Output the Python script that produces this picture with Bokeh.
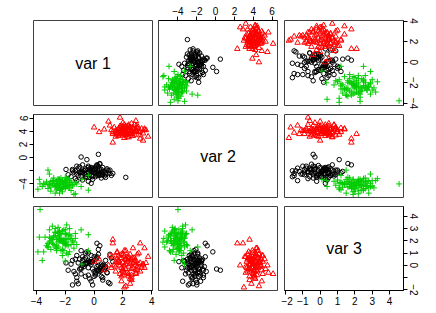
from bokeh.plotting import figure
from bokeh.layouts import gridplot
from bokeh.models import Range1d, LinearAxis, FixedTicker
from bokeh.embed import file_html
from bokeh.resources import INLINE
from bokeh.core.properties import value

var_names = ["var 1", "var 2", "var 3"]

# group 1 (black circles)
black_v1 = [-0.2, 0.4, -0.7, 0.1, -1.1, 0.8, -0.4, 0.3, -0.9, 0.6, -0.1, -1.4, 1.0, -0.6, 0.2, -0.3, 1.2, -1.6, 0.5, -0.8,
            0.0, -1.2, 0.9, -0.5, 0.3, -1.0, 0.7, -0.2, -1.3, 1.3, -0.7, 0.1, -0.4, 0.6, -1.5, 0.2, -0.9, 0.4, -0.1, 1.1,
            -1.8, -0.3, 0.8, -0.6, 0.0, -1.2, 0.5, -0.8, 2.2, 0.3, -0.9, -1.1, -1.2, -1.95, -0.2, 0.2, 0.4, -0.5, 1.1, -1.5,
            -0.3, 0.2, -0.6, 0.5, -0.1, -0.9, 0.3, -0.4, 0.7, -0.2, 0.0, -0.7, 0.4, -1.0, 0.1,
            -0.5, 0.6, -0.3, 0.9, -0.8, 0.2, -0.1, -0.6, 0.3, -1.3, 0.8, -0.4, 0.1, -0.2, 0.5]
black_v2 = [-2.1, -1.8, -2.4, -2.9, -1.6, -2.3, -1.3, -2.6, -2.8, -1.5, -3.3, -2.2, -2.0, -1.9, -1.2, -2.5, -2.7, -2.9, -3.1, -1.1,
            -2.2, -2.5, -1.7, -3.0, -2.1, -1.4, -2.8, -1.6, -3.2, -2.4, -2.0, -1.4, -3.6, -2.5, -1.8, -2.7, -2.3, -1.0, -2.9, -1.9,
            -2.6, -1.7, -3.0, -2.6, -1.9, -1.3, -2.2, -3.4, -3.0, 0.5, 0.1, -2.75, -3.5, -1.8, -3.9, -1.1, -0.9, -0.3, -2.4, -2.0,
            -2.0, -2.3, -1.7, -2.6, -1.9, -2.1, -2.4, -1.5, -2.2, -2.8, -1.8, -2.0, -2.7, -2.3, -1.6,
            -2.4, -2.1, -3.0, -1.9, -2.2, -2.5, -1.7, -2.9, -1.3, -2.0, -2.6, -2.2, -2.3, -1.5, -1.8]
black_v3 = [0.1, -0.3, 0.5, -0.6, 0.2, 0.4, -0.8, 0.9, -0.2, 0.0, 0.3, -0.5, -1.4, 1.0, -0.1, -1.1, 0.6, 0.1, -0.4, 0.7,
            -0.9, 0.8, -0.6, 0.2, 1.3, -0.3, 0.0, -1.3, -0.7, 0.3, -0.1, 0.5, -0.2, -1.0, 0.4, 0.6, 1.2, -0.5, -1.6, 0.9,
            -0.4, 0.3, -0.2, -0.9, 0.7, -1.0, 0.1, 0.4, 0.5, -0.4, -0.3, -1.5, -1.3, 0.2, 0.3, 1.8, 1.6, 1.1, -1.5, -1.6,
            0.2, -0.4, 0.6, -0.1, 0.3, -0.7, 0.0, 0.4, -0.3, 0.8, -0.5, 0.1, -0.2, 0.5, -0.8,
            0.2, -1.2, 0.3, -0.6, 0.0, 0.7, -0.3, 0.1, -0.4, 0.5, -0.1, 1.0, -0.7, 0.3, -0.9]

# group 2 (red triangles)
red_v1 = [2.2, 1.8, 2.6, 2.0, 2.9, 1.5, 2.4, 3.1, 1.9, 2.7, 1.6, 2.3, 3.3, 2.1, 1.4, 2.8, 2.5, 1.7, 3.0, 2.2,
          1.2, 2.6, 2.0, 3.4, 1.9, 2.4, 2.9, 1.6, 2.3, 3.2, 2.1, 1.3, 2.7, 2.0, 2.5, 1.8, 3.0, 2.4, 1.5, 2.8,
          2.2, 3.5, 1.9, 2.6, 0.0, 0.35, 1.8, 3.75, 3.6, 1.3, 3.4, 1.3, 3.5, 2.1, 2.2, 3.2, 1.0, 2.9, 0.7, 1.1,
          2.3, 1.9, 2.7, 2.1, 2.5, 1.7, 2.9, 2.0, 2.4, 3.0, 1.6, 2.2, 2.8, 1.8, 2.6,
          2.3, 3.2, 2.0, 1.5, 2.5, 2.7, 1.9, 2.4, 3.1, 2.1, 1.7, 2.6, 2.9, 2.2, 2.0]
red_v2 = [4.0, 4.5, 3.7, 3.4, 4.3, 4.1, 4.8, 3.9, 3.6, 4.6, 3.8, 3.2, 4.4, 5.0, 4.6, 3.5, 4.2, 3.3, 4.9, 3.9,
          4.2, 5.2, 4.4, 3.7, 4.9, 3.1, 4.0, 3.5, 4.7, 3.4, 3.6, 3.9, 4.3, 5.3, 3.8, 4.0, 4.6, 4.1, 3.2, 5.0,
          3.4, 4.2, 4.3, 3.6, 4.6, 3.9, 6.1, 3.2, 4.2, 2.3, 2.6, 3.6, 4.4, 3.0, 4.6, 2.9, 5.5, 5.6, 4.3, 4.9,
          4.2, 3.9, 4.4, 4.0, 3.6, 4.3, 4.1, 4.7, 3.8, 4.5, 4.2, 3.5, 3.9, 4.8, 4.1,
          3.7, 4.0, 4.4, 3.8, 4.6, 3.3, 4.2, 5.0, 3.9, 4.5, 3.6, 4.1, 4.3, 4.8, 3.7]
red_v3 = [0.1, 0.6, -0.3, 0.9, 0.4, -0.5, -0.1, 1.0, -0.9, 0.2, 0.5, -0.6, -0.2, 0.8, 0.0, 0.6, -1.1, 0.3, -0.4, 1.2,
          -0.2, 0.5, -0.8, 0.1, -1.3, 0.7, -0.7, 1.1, 0.4, -0.5, 0.0, 0.7, 1.4, -0.3, -1.5, 0.2, 0.9, -0.9, -0.1, 0.3,
          0.5, -0.2, 0.9, -1.2, 0.3, 0.5, -0.7, 0.7, 0.2, 1.8, 0.0, 2.1, 1.4, -1.8, -1.7, 1.8, 0.0, -0.6, -0.4, 0.8,
          0.3, -0.2, 0.6, -0.6, 0.1, 0.8, -0.4, 0.2, 0.5, -0.1, 1.0, -0.3, 0.4, 0.0, -0.8,
          0.7, 0.2, -0.5, 0.3, 0.9, -0.2, 0.6, -0.7, 0.1, 1.2, 0.4, -1.0, 0.0, 0.5, -0.4]

# group 3 (green crosses)
green_v1 = [-2.3, -2.8, -1.9, -2.5, -2.0, -3.1, -1.6, -2.6, -2.2, -1.4, -2.9, -2.1, -2.7, -1.8, -3.3, -2.4, -1.7, -2.5, -3.0, -2.0,
            -1.5, -2.8, -2.3, -1.9, -3.4, -2.6, -1.3, -2.2, -2.9, -1.8, -2.4, -3.2, -2.1, -1.6, -2.7, -2.0, -3.5, -2.5, -1.2, -2.2,
            -3.0, -1.7, -2.6, -2.3, -3.75, -3.9, -3.6, -0.4, -3.2, -0.4, -2.4, -1.3, -1.4, -0.85, -2.0, -1.9, -2.7, -3.8, -3.1, -0.9,
            -2.4, -2.0, -2.7, -2.2, -1.8, -2.5, -3.0, -2.1, -2.6, -1.9, -2.3, -2.8, -1.6, -2.4, -2.1,
            -3.2, -2.5, -1.9, -2.7, -2.2, -2.0, -2.9, -1.7, -2.4, -2.6, -2.1, -3.1, -2.3, -1.8, -2.5]
green_v2 = [-4.0, -3.6, -4.4, -3.3, -4.7, -4.2, -3.8, -4.9, -3.5, -4.1, -3.9, -4.5, -4.3, -3.2, -3.7, -5.0, -4.6, -3.6, -4.5, -3.9,
            -4.3, -3.1, -4.8, -3.4, -4.1, -4.0, -3.7, -5.2, -3.5, -4.2, -3.3, -4.7, -3.8, -5.0, -4.4, -3.0, -3.9, -4.6, -4.0, -3.6,
            -5.1, -3.5, -4.2, -3.1, -4.0, -4.8, -4.4, -4.95, -1.9, -2.7, -5.4, -5.5, -5.6, -3.3, -3.5, -3.2, -5.4, -3.3, -2.5, -4.4,
            -4.1, -3.8, -4.3, -3.7, -4.5, -4.0, -3.6, -4.4, -3.9, -4.2, -4.7, -3.5, -4.1, -4.6, -3.8,
            -4.0, -4.3, -3.4, -4.2, -3.9, -4.5, -4.0, -3.7, -4.8, -3.6, -4.4, -4.1, -3.8, -4.2, -3.3]
green_v3 = [2.0, 2.4, 1.7, 1.5, 2.6, 1.9, 2.2, 1.2, 2.8, 1.4, 2.1, 1.8, 3.0, 2.5, 1.6, 2.3, 1.1, 2.7, 1.3, 2.9,
            2.0, 1.7, 2.5, 1.0, 2.3, 1.4, 2.6, 1.9, 3.2, 0.9, 2.2, 1.8, 1.2, 2.4, 2.7, 1.6, 1.1, 3.1, 1.7, 0.8,
            2.0, 3.0, 2.1, 2.6, 4.55, 1.1, 0.4, 2.5, 1.5, 1.2, 2.8, 2.2, 1.9, 0.1, 0.35, 3.3, 1.5, 2.3, 2.9, 2.9,
            2.1, 1.8, 2.4, 2.0, 1.6, 2.6, 2.2, 1.9, 1.4, 2.5, 2.0, 2.3, 1.7, 2.8, 2.1,
            1.5, 2.4, 1.9, 2.7, 1.3, 2.2, 1.8, 2.5, 2.0, 1.6, 2.9, 2.3, 1.2, 2.1, 1.9]

# tick positions per variable (labelled ticks, and ticks left unlabelled)
var1_ticks = [-4, -2, 0, 2, 4]
var2_ticks = [-4, -2, 0, 2, 4, 6]
var2_ticks_left = [-4, 0, 2, 4, 6]
var2_ticks_left_unlabelled = [-2]
var3_ticks = [-2, -1, 0, 1, 2, 3, 4]
var3_ticks_right = [-2, 0, 1, 2, 3, 4]
var3_ticks_right_unlabelled = [-1]

groups = [
    dict(vals=[black_v1, black_v2, black_v3], marker="circle", color="#000000", size=4.5),
    dict(vals=[red_v1, red_v2, red_v3], marker="triangle", color="#FF0000", size=5.5),
    dict(vals=[green_v1, green_v2, green_v3], marker="cross", color="#00CD00", size=6),
]


def ext_range(vals):
    lo, hi = min(vals), max(vals)
    pad = 0.04 * (hi - lo)
    return lo - pad, hi + pad


ranges = [ext_range(black_v1 + red_v1 + green_v1),
          ext_range(black_v2 + red_v2 + green_v2),
          ext_range(black_v3 + red_v3 + green_v3)]

FONT = "Liberation Sans"
col_b = [(33, 3), (3, 4), (3, 30)]
row_b = [(20, 4), (5, 4), (5, 20)]
frame_w = [119, 119, 119]
frame_h = [85, 83, 84]


def make_axis(ticks, minor=None, vertical=False):
    ax = LinearAxis(ticker=FixedTicker(ticks=ticks, minor_ticks=minor or []))
    ax.major_tick_out = 4
    ax.major_tick_in = 0
    ax.minor_tick_out = 4
    ax.minor_tick_in = 0
    ax.major_label_standoff = 2
    ax.major_label_text_font = FONT
    ax.major_label_text_font_size = "10px"
    ax.major_label_text_color = "#000000"
    ax.axis_line_color = "#000000"
    ax.major_tick_line_color = "#000000"
    ax.minor_tick_line_color = "#000000"
    if vertical:
        ax.major_label_orientation = "vertical"
    return ax


figs = []
for i in range(3):
    row = []
    for j in range(3):
        p = figure(width=col_b[j][0] + frame_w[j] + col_b[j][1],
                   height=row_b[i][0] + frame_h[i] + row_b[i][1],
                   x_range=Range1d(*ranges[j]), y_range=Range1d(*ranges[i]),
                   x_axis_location=None, y_axis_location=None,
                   toolbar_location=None, tools="", output_backend="svg",
                   min_border_left=col_b[j][0], min_border_right=col_b[j][1],
                   min_border_top=row_b[i][0], min_border_bottom=row_b[i][1],
                   background_fill_color="white", border_fill_color="white",
                   outline_line_color="#404040", outline_line_width=1)
        p.grid.grid_line_color = None
        if i == j:
            cx = (ranges[i][0] + ranges[i][1]) / 2
            p.text(x=[cx], y=[cx], text=[var_names[i]], text_align="center",
                   text_baseline="middle", text_font=value(FONT),
                   text_font_size="16px", text_color="#000000")
        else:
            for g in groups:
                p.scatter(x=g["vals"][j], y=g["vals"][i], marker=g["marker"],
                          size=g["size"], fill_color=None, line_color=g["color"],
                          line_width=1)
        row.append(p)
    figs.append(row)

# axes as in R pairs()
figs[0][1].add_layout(make_axis(var2_ticks), "above")
figs[0][2].add_layout(make_axis(var1_ticks, vertical=True), "right")
figs[1][0].add_layout(make_axis(var2_ticks_left, var2_ticks_left_unlabelled, vertical=True), "left")
figs[2][0].add_layout(make_axis(var1_ticks), "below")
figs[2][2].add_layout(make_axis(var3_ticks), "below")
figs[2][2].add_layout(make_axis(var3_ticks_right, var3_ticks_right_unlabelled, vertical=True), "right")

grid = gridplot(figs, toolbar_location=None)
grid.spacing = 0

open("out.html", "w").write(file_html(grid, INLINE))
